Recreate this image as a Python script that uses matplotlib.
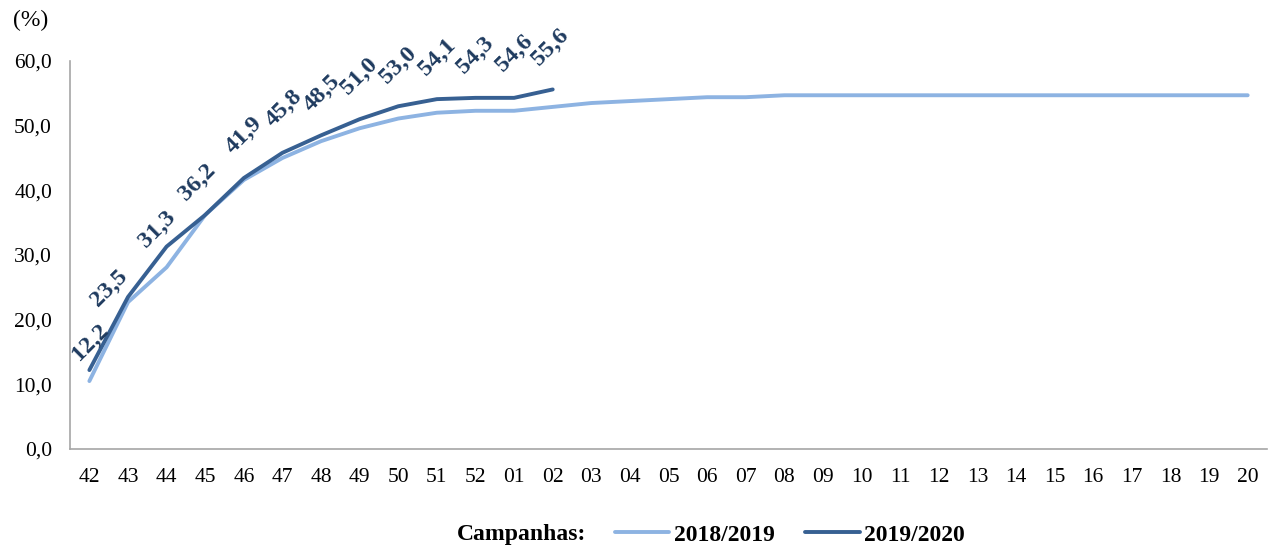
import matplotlib.pyplot as plt

plt.rcParams['font.family'] = ['Liberation Serif', 'DejaVu Serif']

semanas = ['42', '43', '44', '45', '46', '47', '48', '49', '50', '51', '52',
           '01', '02', '03', '04', '05', '06', '07', '08', '09', '10', '11',
           '12', '13', '14', '15', '16', '17', '18', '19', '20']

camp_1819 = [10.5, 22.7, 28.1, 36.2, 41.6, 45.0, 47.6, 49.6, 51.1, 52.0, 52.3,
             52.3, 52.9, 53.5, 53.8, 54.1, 54.4, 54.4, 54.7, 54.7, 54.7, 54.7,
             54.7, 54.7, 54.7, 54.7, 54.7, 54.7, 54.7, 54.7, 54.7]

camp_1920 = [12.2, 23.5, 31.3, 36.2, 41.9, 45.8, 48.5, 51.0, 53.0, 54.1, 54.3,
             54.3, 55.6]
rotulos_1920 = ['12,2', '23,5', '31,3', '36,2', '41,9', '45,8', '48,5', '51,0',
                '53,0', '54,1', '54,3', '54,6', '55,6']

# deslocamento dos rótulos (pixels)
desloc = [(1, 28), (-19, 9), (-9, 17), (-8, 33), (0, 43), (1, 45), (1, 42),
          (0, 43), (0, 41), (0, 42), (0, 43), (0, 45), (-2, 42)]

cor_clara = '#8DB3E2'
cor_escura = '#376092'

fig = plt.figure(figsize=(12.74, 5.48), dpi=100)
ax = fig.add_axes([0.055, 0.1807, 0.9395, 0.708])

x = list(range(len(semanas)))
ax.plot(x, camp_1819, color=cor_clara, lw=2.8, label='2018/2019', solid_capstyle='round')
ax.plot(x[:len(camp_1920)], camp_1920, color=cor_escura, lw=2.8, label='2019/2020',
        solid_capstyle='round')

for i, (v, txt) in enumerate(zip(camp_1920, rotulos_1920)):
    ax.annotate(txt, (i, v), xytext=desloc[i], textcoords='offset pixels',
                ha='center', va='center', rotation=45, fontsize=17.5,
                fontweight='bold', color='#1F3B5F', annotation_clip=False)

ax.set_xlim(-0.5, len(semanas) - 0.5)
ax.set_ylim(0, 60)
ax.set_xticks(x)
ax.set_xticklabels(semanas)
ax.set_yticks(range(0, 61, 10))
ax.set_yticklabels([f'{v:.1f}'.replace('.', ',') for v in range(0, 61, 10)])
ax.tick_params(axis='both', length=0, labelsize=15.5)
ax.tick_params(axis='y', pad=13)
ax.tick_params(axis='x', pad=14)
for s in ['top', 'right']:
    ax.spines[s].set_visible(False)
for s in ['left', 'bottom']:
    ax.spines[s].set_color('#A6A6A6')
    ax.spines[s].set_linewidth(1.2)

fig.text(0.024, 0.963, '(%)', fontsize=17, ha='center', va='center')
fig.text(0.46, 0.024, 'Campanhas:', fontsize=17, fontweight='bold',
         ha='right', va='center')
leg = fig.legend(loc='center', bbox_to_anchor=(0.62, 0.024), ncol=2, frameon=False,
                 prop={'size': 17, 'weight': 'bold'}, handlelength=2.3,
                 handletextpad=0.2, columnspacing=1.3)

fig.savefig('out.png', dpi=100)
